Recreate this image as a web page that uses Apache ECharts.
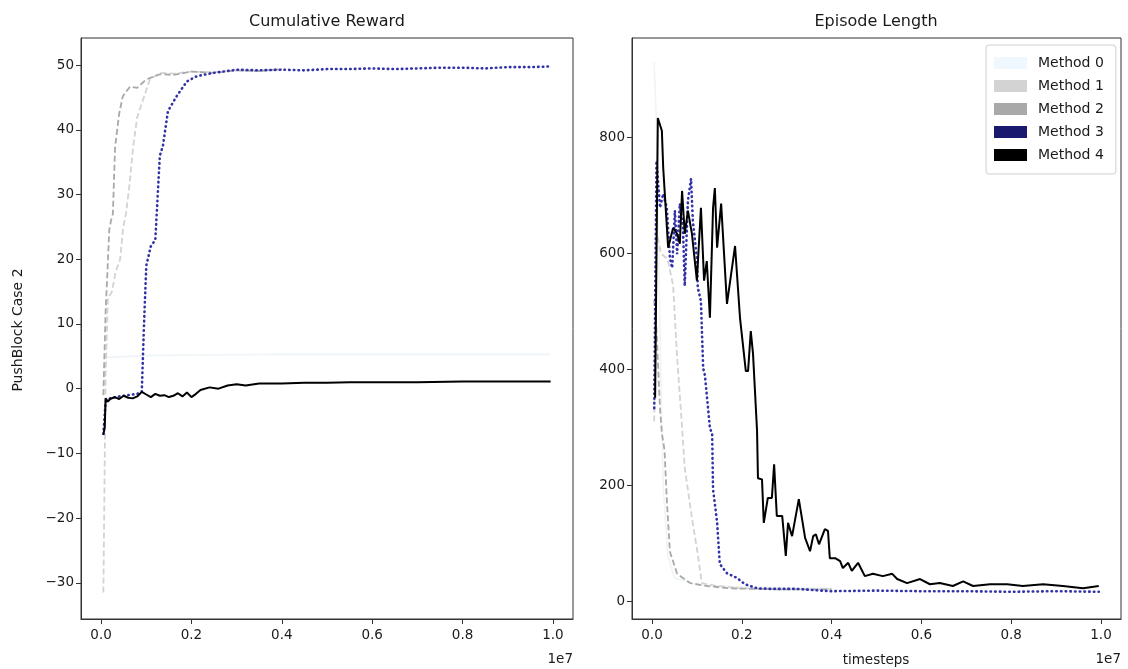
<!DOCTYPE html>
<html>
<head>
<meta charset="utf-8">
<script src="https://cdn.jsdelivr.net/npm/echarts@6/dist/echarts.min.js"></script>
<style>
  html, body { margin: 0; padding: 0; background: #fff; }
  #main { width: 1128px; height: 669px; }
</style>
</head>
<body>
<div id="main"></div>
<script>
// x values are in units of 1e7 timesteps
var methods = ["Method 0", "Method 1", "Method 2", "Method 3", "Method 4"];
var stepTicks = [0, 0.2, 0.4, 0.6, 0.8, 1.0];
var rewardTicks = [-30, -20, -10, 0, 10, 20, 30, 40, 50];
var lengthTicks = [0, 200, 400, 600, 800];

// Cumulative reward
var reward0 = [[0.005, 4.8], [0.1, 5.1], [0.2, 5.2], [0.4, 5.3], [0.6, 5.3], [0.8, 5.3], [0.995, 5.3]];
var reward1 = [[0.005, -31.5], [0.01, 2], [0.015, 14], [0.024, 15], [0.032, 18], [0.042, 20],
  [0.049, 25], [0.055, 27], [0.062, 31], [0.071, 37.4], [0.08, 42], [0.093, 44.7],
  [0.108, 47.8], [0.13, 48.8], [0.16, 48.7], [0.2, 49], [0.25, 48.9], [0.3, 49.2], [0.35, 49.1], [0.4, 49.3]];
var reward2 = [[0.005, -1], [0.01, 12], [0.014, 18], [0.018, 24.5], [0.022, 26], [0.026, 27],
  [0.031, 37.4], [0.04, 42.5], [0.048, 45.2], [0.064, 46.7], [0.08, 46.5], [0.1, 47.8],
  [0.13, 48.6], [0.16, 48.5], [0.2, 49], [0.25, 48.8], [0.3, 49.2], [0.35, 49.1], [0.4, 49.4]];
var reward3 = [[0.005, -7], [0.01, -2], [0.02, -1.5], [0.04, -1.2], [0.06, -1.0], [0.08, -0.8],
  [0.09, -0.5], [0.095, 10], [0.1, 19], [0.11, 22], [0.12, 23], [0.13, 36], [0.137, 37.6],
  [0.148, 42.9], [0.168, 45.3], [0.19, 47.5], [0.212, 48.3], [0.248, 48.8], [0.3, 49.3],
  [0.35, 49.2], [0.4, 49.3], [0.45, 49.2], [0.5, 49.4], [0.55, 49.4], [0.6, 49.5], [0.65, 49.4],
  [0.7, 49.5], [0.75, 49.6], [0.8, 49.6], [0.85, 49.5], [0.9, 49.7], [0.95, 49.7], [0.995, 49.8]];
var reward4 = [[0.005, -7.1], [0.008, -6], [0.01, -1.5], [0.015, -2], [0.02, -1.6], [0.03, -1.3],
  [0.04, -1.6], [0.05, -1.1], [0.06, -1.4], [0.07, -1.5], [0.08, -1.2], [0.09, -0.5], [0.1, -0.9],
  [0.11, -1.3], [0.12, -0.8], [0.13, -1.1], [0.14, -1.0], [0.15, -1.3], [0.16, -1.1], [0.17, -0.7],
  [0.18, -1.2], [0.19, -0.6], [0.2, -1.3], [0.21, -0.8], [0.22, -0.2], [0.24, 0.2], [0.26, 0.0],
  [0.28, 0.5], [0.3, 0.7], [0.32, 0.5], [0.35, 0.8], [0.4, 0.8], [0.45, 0.9], [0.5, 0.9],
  [0.55, 1.0], [0.6, 1.0], [0.7, 1.0], [0.8, 1.1], [0.9, 1.1], [0.995, 1.1]];

// Episode length
var length0 = [[0.005, 930], [0.01, 820], [0.015, 600], [0.02, 380], [0.025, 200], [0.035, 80],
  [0.05, 40], [0.1, 28], [0.2, 24], [0.4, 22]];
var length1 = [[0.005, 310], [0.01, 640], [0.02, 600], [0.035, 590], [0.047, 545], [0.056, 420],
  [0.067, 300], [0.073, 230], [0.089, 143], [0.102, 81], [0.111, 31], [0.145, 26], [0.196, 22],
  [0.241, 21], [0.3, 20], [0.4, 20]];
var length2 = [[0.005, 520], [0.01, 470], [0.018, 330], [0.022, 290], [0.028, 260], [0.033, 175],
  [0.04, 85], [0.056, 47], [0.085, 31], [0.122, 26], [0.173, 22], [0.225, 21], [0.3, 20], [0.4, 20]];
var length3 = [[0.005, 333], [0.01, 760], [0.018, 679], [0.025, 703], [0.033, 679], [0.04, 592],
  [0.045, 575], [0.051, 674], [0.056, 599], [0.062, 686], [0.069, 644], [0.073, 544], [0.08, 691],
  [0.087, 729], [0.091, 656], [0.1, 592], [0.102, 541], [0.109, 518], [0.114, 402], [0.118, 389],
  [0.122, 392], [0.129, 299], [0.134, 288], [0.136, 193], [0.145, 136], [0.151, 64], [0.167, 48],
  [0.189, 40], [0.207, 29], [0.234, 22], [0.263, 21], [0.323, 21], [0.396, 17], [0.5, 18],
  [0.6, 17], [0.693, 17], [0.8, 16], [0.9, 17], [0.995, 16]];
var length4 = [[0.007, 351], [0.013, 834], [0.022, 812], [0.025, 748], [0.036, 610], [0.047, 644],
  [0.056, 634], [0.062, 617], [0.067, 708], [0.073, 634], [0.08, 674], [0.089, 634], [0.1, 553],
  [0.109, 679], [0.116, 553], [0.122, 587], [0.129, 489], [0.136, 679], [0.14, 713], [0.145, 610],
  [0.154, 686], [0.167, 513], [0.185, 613], [0.196, 489], [0.2, 487], [0.209, 397], [0.214, 397],
  [0.22, 466], [0.225, 427], [0.234, 294], [0.236, 212], [0.245, 210], [0.249, 135], [0.258, 178],
  [0.267, 178], [0.272, 236], [0.278, 147], [0.29, 147], [0.298, 78], [0.303, 135], [0.312, 112],
  [0.327, 176], [0.341, 109], [0.352, 86], [0.359, 112], [0.365, 115], [0.372, 98], [0.385, 124],
  [0.392, 121], [0.396, 74], [0.408, 74], [0.419, 69], [0.425, 57], [0.437, 66], [0.445, 52],
  [0.459, 66], [0.474, 43], [0.492, 47], [0.514, 43], [0.535, 47], [0.546, 38], [0.568, 31],
  [0.597, 38], [0.619, 29], [0.641, 31], [0.67, 26], [0.693, 34], [0.715, 26], [0.753, 29],
  [0.791, 29], [0.826, 26], [0.871, 29], [0.915, 26], [0.96, 22], [0.995, 26]];

var lineColors = ["#eef4f7", "#d3d3d3", "#a9a9a9", "#3232a8", "#000000"];
var legendColors = ["#f0f8ff", "#d3d3d3", "#a9a9a9", "#191970", "#000000"];
var lineTypes = ["solid", [6, 3], [6, 3], [0.5, 4.2], "solid"];
var lineWidths = [1.6, 1.8, 1.8, 2.6, 2];

var textColor = "#1a1a1a";
var font = "DejaVu Sans";

function xAxisFor(idx) {
  return {
    type: "value", gridIndex: idx, min: -0.0445, max: 1.0445,
    axisLine: { show: true, onZero: false, lineStyle: { color: "#333", width: 1 } },
    axisTick: { show: true, length: 5, customValues: stepTicks, lineStyle: { color: "#333" } },
    axisLabel: {
      customValues: stepTicks, color: textColor, fontSize: 13.5, fontFamily: font, margin: 9,
      formatter: function (v) { return v.toFixed(1); }
    },
    splitLine: { show: false }
  };
}

function yAxisFor(idx, min, max, ticks) {
  return {
    type: "value", gridIndex: idx, min: min, max: max,
    axisLine: { show: true, onZero: false, lineStyle: { color: "#333", width: 1 } },
    axisTick: { show: true, length: 5, customValues: ticks, lineStyle: { color: "#333" } },
    axisLabel: {
      customValues: ticks, color: textColor, fontSize: 13.5, fontFamily: font, margin: 7,
      formatter: function (v) { return v < 0 ? "\u2212" + Math.abs(v) : String(v); }
    },
    splitLine: { show: false }
  };
}

var rewardData = [reward0, reward1, reward2, reward3, reward4];
var lengthData = [length0, length1, length2, length3, length4];

var series = [];
[rewardData, lengthData].forEach(function (set, g) {
  set.forEach(function (d, i) {
    series.push({
      name: methods[i],
      type: "line",
      xAxisIndex: g, yAxisIndex: g,
      data: d,
      showSymbol: false,
      symbol: "none",
      z: 2 + i,
      itemStyle: { color: legendColors[i] },
      lineStyle: {
        color: lineColors[i],
        width: lineWidths[i],
        type: lineTypes[i],
        cap: i === 3 ? "round" : "butt"
      }
    });
  });
});

var myChart = echarts.init(document.getElementById("main"), null, { renderer: "canvas" });

myChart.setOption({
  animation: false,
  backgroundColor: "#fff",
  grid: [
    { left: 81, right: 555, top: 38, bottom: 50, show: true, borderColor: "#333", borderWidth: 1, backgroundColor: "transparent" },
    { left: 632, right: 7, top: 38, bottom: 50, show: true, borderColor: "#333", borderWidth: 1, backgroundColor: "transparent" }
  ],
  xAxis: [xAxisFor(0), xAxisFor(1)],
  yAxis: [
    yAxisFor(0, -35.6, 54.2, rewardTicks),
    yAxisFor(1, -31, 972, lengthTicks)
  ],
  legend: {
    orient: "vertical",
    left: 986, top: 45,
    padding: [11, 12, 12, 8],
    itemGap: 9,
    itemWidth: 33, itemHeight: 12,
    icon: "rect",
    backgroundColor: "#fff",
    borderColor: "#d0d0d0", borderWidth: 1, borderRadius: 3,
    textStyle: { color: textColor, fontSize: 14, fontFamily: font, padding: [0, 0, 0, 6] },
    data: methods.map(function (m, i) {
      return { name: m, itemStyle: { color: legendColors[i], borderWidth: 0 } };
    })
  },
  graphic: [
    { type: "text", x: 327, y: 22, style: { text: "Cumulative Reward", fontSize: 16, fontFamily: font, fill: textColor, align: "center", verticalAlign: "middle" } },
    { type: "text", x: 876, y: 22, style: { text: "Episode Length", fontSize: 16, fontFamily: font, fill: textColor, align: "center", verticalAlign: "middle" } },
    { type: "text", x: 18, y: 330, rotation: Math.PI / 2, style: { text: "PushBlock Case 2", fontSize: 14, fontFamily: font, fill: textColor, align: "center", verticalAlign: "middle" } },
    { type: "text", x: 573, y: 659, style: { text: "1e7", fontSize: 13.5, fontFamily: font, fill: textColor, align: "right", verticalAlign: "middle" } },
    { type: "text", x: 1121, y: 659, style: { text: "1e7", fontSize: 13.5, fontFamily: font, fill: textColor, align: "right", verticalAlign: "middle" } },
    { type: "text", x: 876, y: 660, style: { text: "timesteps", fontSize: 13.5, fontFamily: font, fill: textColor, align: "center", verticalAlign: "middle" } }
  ],
  series: series
});
</script>
</body>
</html>
